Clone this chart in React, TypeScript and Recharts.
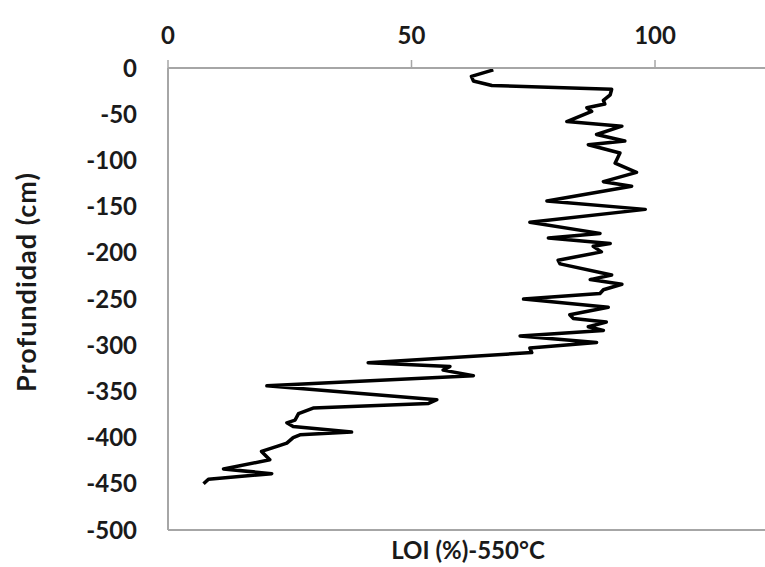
import { LineChart, Line, XAxis, YAxis } from "recharts";

// LOI (%), from the top of the core down
const loi = [
  66.8, 62.3, 62.7, 66.5, 91.1, 90.8, 89.4, 89.7, 86, 87, 81.9, 93.2, 88, 93.8, 86.3, 92.8,
  91.8, 96.2, 89.4, 95.2, 77.8, 98, 74.3, 88.7, 78.1, 90.8, 87.3, 89, 80.1, 80.5, 91.1, 86.7,
  93.2, 89.4, 88.7, 73, 90.4, 82.5, 83.2, 90, 86.3, 89.4, 72.3, 88, 74.3, 74.7, 41.1, 57.9,
  56.5, 62.7, 20.3, 55.2, 53.5, 29.8, 26.8, 26.1, 24.4, 25.7, 37.7, 27.1, 25.7, 24.4, 22.7,
  19.2, 20.9, 11.4, 21.3, 8.3, 7.3,
];
// depth (cm) for each sample
const depth = [
  -2, -9, -14, -19, -23, -29, -35, -39, -43, -47, -58, -63, -72, -79, -83, -92,
  -103, -113, -123, -128, -144, -153, -167, -179, -184, -190, -193, -199, -208, -212, -224, -229,
  -234, -240, -244, -250, -259, -267, -271, -275, -280, -284, -290, -297, -303, -308, -319, -323,
  -327, -333, -344, -359, -363, -368, -374, -381, -384, -388, -394, -397, -400, -406, -409,
  -415, -424, -434, -439, -445, -450,
];
const xTicks = [0, 50, 100];
const yTicks = [0, -50, -100, -150, -200, -250, -300, -350, -400, -450, -500];

const data = depth.map((d, i) => ({ depth: d, loi: loi[i] }));

const font = "Lato, 'Open Sans', sans-serif";
const ink = "#1a1a1a";
const tickStyle = { fontSize: 24, fill: ink, fontFamily: font, fontWeight: 700 };
const axisGray = "#a6a6a6";

export default function App() {
  return (
    <div style={{ position: "absolute", left: 0, top: 0, width: 765, height: 567, overflow: "hidden", background: "#fff" }}>
      <LineChart
        width={768}
        height={567}
        data={data}
        layout="vertical"
        margin={{ top: 0, right: 0, bottom: 0, left: 0 }}
      >
        <XAxis
          type="number"
          orientation="top"
          domain={[0, 123.2]}
          ticks={xTicks}
          allowDataOverflow
          height={68}
          tick={tickStyle}
          tickSize={8}
          tickMargin={16}
          axisLine={{ stroke: axisGray, strokeWidth: 2 }}
          tickLine={{ stroke: axisGray, strokeWidth: 1.5 }}
        />
        <XAxis
          xAxisId="bottom"
          type="number"
          orientation="bottom"
          domain={[0, 123.2]}
          ticks={xTicks}
          height={37}
          tick={false}
          tickLine={false}
          axisLine={{ stroke: axisGray, strokeWidth: 2 }}
          label={{
            value: "LOI (%)-550°C",
            position: "center",
            dy: 2,
            style: { fontSize: 24, fill: ink, fontFamily: font, fontWeight: 700 },
          }}
        />
        <YAxis
          type="number"
          dataKey="depth"
          domain={[-500, 0]}
          ticks={yTicks}
          reversed
          width={168}
          tick={tickStyle}
          tickLine={false}
          tickSize={0}
          tickMargin={31}
          axisLine={{ stroke: axisGray, strokeWidth: 2 }}
          label={() => (
            <text
              x={25}
              y={282}
              transform="rotate(-90 25 282)"
              textAnchor="middle"
              dominantBaseline="central"
              fontSize={27}
              letterSpacing={1}
              fontFamily={font}
              fontWeight={700}
              fill={ink}
            >
              Profundidad (cm)
            </text>
          )}
        />
        <Line
          dataKey="loi"
          type="linear"
          stroke="#000"
          strokeWidth={3.5}
          strokeLinejoin="round"
          dot={false}
          isAnimationActive={false}
        />
      </LineChart>
    </div>
  );
}
